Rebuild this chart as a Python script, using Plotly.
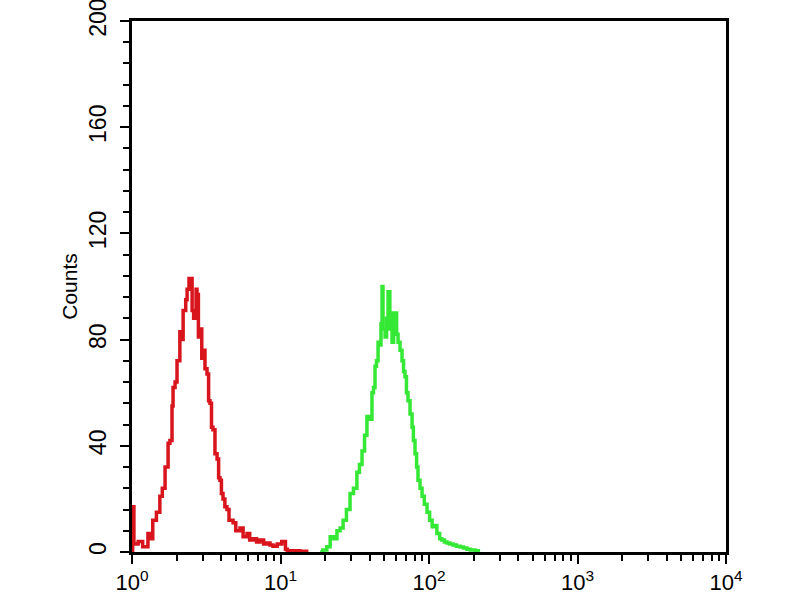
import plotly.graph_objects as go

# Red histogram (fluorescence intensity, counts)
red_x = [1.00, 1.01, 1.03, 1.10, 1.18, 1.28, 1.33, 1.38, 1.46, 1.54, 1.60, 1.67, 1.75, 1.80,
         1.86, 1.89, 1.95, 2.01, 2.10, 2.15, 2.21, 2.30, 2.35, 2.42, 2.46, 2.50, 2.54, 2.60,
         2.66, 2.70, 2.74, 2.80, 2.87, 2.95, 3.01, 3.10, 3.20, 3.28, 3.35, 3.43, 3.51, 3.62,
         3.74, 3.83, 3.91, 4.00, 4.10, 4.22, 4.36, 4.50, 4.79, 5.00, 5.34, 5.60, 5.95, 6.20,
         6.53, 6.90, 7.28, 7.70, 8.11, 8.50, 8.90, 9.50, 10.2, 10.8, 11.1, 12.5, 13.5, 15.0]
red_y = [0, 17, 3, 4, 2, 7, 5, 12, 15, 21, 24, 32, 41, 42,
         55, 62, 64, 72, 83, 80, 91, 95, 99, 103, 100, 103, 91, 88,
         88, 99, 97, 81, 84, 73, 76, 69, 67, 57, 56, 47, 46, 37,
         35, 28, 27, 22, 20, 17, 16, 12, 11, 8, 9, 5.7, 7, 4.5,
         5, 3.8, 4.5, 3, 3.4, 2.6, 2.2, 3, 4, 1, 0.5, 0.5, 0.3, 0]

# Green histogram
green_x = [18.5, 19.3, 20.5, 21.6, 22.8, 24.0, 25.2, 26.4, 27.8, 29.4, 31.0, 32.7, 34.0, 35.4,
           36.8, 38.2, 39.6, 41.3, 42.3, 43.3, 44.3, 45.4, 46.5, 47.5, 48.3, 49.0, 50.6, 51.8,
           53.0, 54.5, 55.5, 56.4, 57.8, 59.1, 60.5, 61.9, 63.8, 65.8, 67.4, 68.9, 70.5, 72.2,
           74.5, 76.9, 78.5, 80.5, 82.5, 84.3, 87.0, 89.8, 93.0, 97.0, 101, 105, 109, 113,
           118, 122, 127, 132, 138, 145, 153, 162, 171, 180, 190, 204, 215]
green_y = [0, 0.8, 2, 5.7, 5, 8, 9, 12, 16, 22, 24, 30, 33, 38,
           44, 51, 50, 60, 62, 70, 72, 79, 78, 86, 100, 84, 81, 88,
           98, 84, 90, 79, 88, 90, 82, 79, 76, 72, 68, 66, 60, 57,
           52, 47, 42, 37, 32, 27, 24, 21, 18, 15, 12, 9.5, 10, 7,
           5, 4.5, 3.8, 3.4, 3, 2.6, 2.2, 1.9, 1.5, 1, 0.8, 0.5, 0]

x_tickvals = [1, 10, 100, 1000, 10000]
x_ticktext = ["10<sup>0</sup>", "10<sup>1</sup>", "10<sup>2</sup>", "10<sup>3</sup>", "10<sup>4</sup>"]
y_tickvals = [0, 40, 80, 120, 160, 200]

fig = go.Figure()
fig.add_trace(go.Scatter(x=red_x, y=red_y, mode="lines", line=dict(color="#d8141c", width=3.5, shape="hv"),
                         showlegend=False))
fig.add_trace(go.Scatter(x=green_x, y=green_y, mode="lines", line=dict(color="#35e835", width=3.5, shape="hv"),
                         showlegend=False))

font = "Liberation Sans, Arial, sans-serif"
fig.update_layout(
    width=800, height=600,
    margin=dict(l=132, r=74, t=21, b=48),
    paper_bgcolor="white", plot_bgcolor="white",
    font=dict(family=font, color="black"),
    xaxis=dict(type="log", range=[0, 4], tickvals=x_tickvals, ticktext=x_ticktext,
               ticks="outside", ticklen=9, tickwidth=2, tickcolor="black", automargin=False,
               ticklabeloverflow="allow",
               showline=True, linecolor="black", linewidth=2.5, mirror=True,
               showgrid=False, zeroline=False, tickfont=dict(size=22, family=font),
               minor=dict(ticks="outside", ticklen=6, tickwidth=1.5, tickcolor="black",
                          dtick="D1", showgrid=False)),
    yaxis=dict(range=[0, 200], tickvals=y_tickvals, tickangle=-90,
               ticks="outside", ticklen=9, tickwidth=2, tickcolor="black", automargin=False,
               ticklabeloverflow="allow", ticklabelstandoff=5,
               showline=True, linecolor="black", linewidth=2.5, mirror=True,
               showgrid=False, zeroline=False, tickfont=dict(size=23, family=font),
               minor=dict(ticks="outside", ticklen=6, tickwidth=1.5, tickcolor="black",
                          dtick=8, showgrid=False),
               title=dict(text="Counts", font=dict(size=21, family=font), standoff=2)),
)

fig.write_html("out.html", config={"displayModeBar": False},
               post_script="document.body.style.margin='0';document.body.style.overflow='hidden';")
